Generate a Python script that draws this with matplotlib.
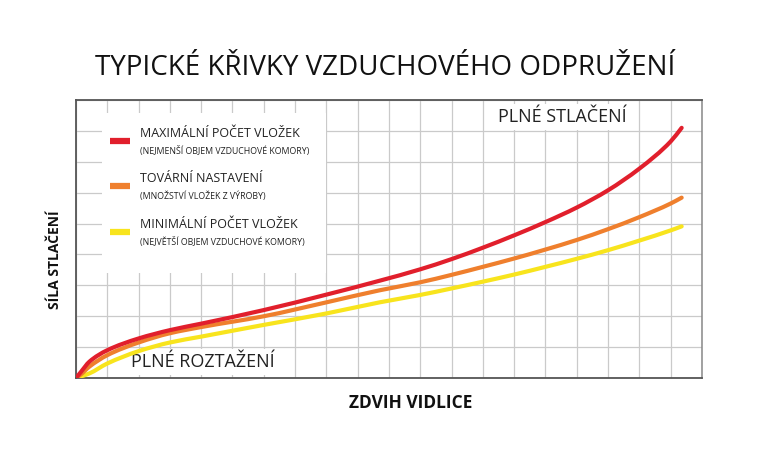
import numpy as np
import matplotlib.pyplot as plt
from matplotlib.patches import Rectangle, PathPatch
from matplotlib.path import Path

# values (x: grid columns 0-20, y: grid rows 0-9)
x_pts = [0, 0.16, 0.43, 1, 2, 3, 4, 6, 8, 9.7, 11, 12, 13, 14, 15, 16, 17, 18, 19, 19.35]
max_inserts = [0, 0.2, 0.53, 0.9, 1.28, 1.55, 1.76, 2.2, 2.7, 3.15, 3.52, 3.85, 4.22, 4.62, 5.05, 5.52, 6.08, 6.78, 7.66, 8.1]
factory = [0, 0.12, 0.37, 0.74, 1.15, 1.45, 1.65, 2.0, 2.45, 2.84, 3.1, 3.34, 3.6, 3.87, 4.16, 4.47, 4.82, 5.21, 5.65, 5.84]
min_inserts = [0, 0.05, 0.15, 0.47, 0.87, 1.15, 1.34, 1.72, 2.09, 2.45, 2.69, 2.9, 3.12, 3.35, 3.6, 3.86, 4.14, 4.45, 4.78, 4.91]

series_names = ["MAXIMÁLNÍ POČET VLOŽEK", "TOVÁRNÍ NASTAVENÍ", "MINIMÁLNÍ POČET VLOŽEK"]
series_notes = ["(NEJMENŠÍ OBJEM VZDUCHOVÉ KOMORY)", "(MNOŽSTVÍ VLOŽEK Z VÝROBY)",
                "(NEJVĚTŠÍ OBJEM VZDUCHOVÉ KOMORY)"]
colors = ["#e11f2c", "#ef7f2d", "#f8e41d"]

font = ["Open Sans", "DejaVu Sans"]


def smooth_path(xs, ys):
    # cubic bezier through the read points (monotone hermite tangents)
    xs = np.asarray(xs, float)
    ys = np.asarray(ys, float)
    h = np.diff(xs)
    d = np.diff(ys) / h
    m = np.zeros_like(xs)
    m[0] = d[0]
    m[-1] = d[-1]
    for i in range(1, len(xs) - 1):
        if d[i - 1] * d[i] <= 0:
            m[i] = 0
        else:
            w1 = 2 * h[i] + h[i - 1]
            w2 = h[i] + 2 * h[i - 1]
            m[i] = (w1 + w2) / (w1 / d[i - 1] + w2 / d[i])
    verts = [(xs[0], ys[0])]
    codes = [Path.MOVETO]
    for i in range(len(xs) - 1):
        verts += [(xs[i] + h[i] / 3, ys[i] + m[i] * h[i] / 3),
                  (xs[i + 1] - h[i] / 3, ys[i + 1] - m[i + 1] * h[i] / 3),
                  (xs[i + 1], ys[i + 1])]
        codes += [Path.CURVE4] * 3
    return Path(verts, codes)


fig = plt.figure(figsize=(7.59, 4.61), dpi=100)
ax = fig.add_axes([0.1001, 0.18, 0.8248, 0.603])

ax.set_xlim(0, 20)
ax.set_ylim(0, 9)
ax.set_xticks(np.arange(0, 21, 1))
ax.set_yticks(np.arange(0, 10, 1))
ax.tick_params(length=0, labelbottom=False, labelleft=False)
ax.grid(True, color="#cacaca", linewidth=0.9, zorder=0)
ax.set_axisbelow(True)
for side in ["top", "left", "bottom"]:
    ax.spines[side].set_color("#555555")
    ax.spines[side].set_linewidth(1.3)
ax.spines["right"].set_color("#888888")
ax.spines["right"].set_linewidth(1.1)

# lines, yellow first so red is on top
for ys, c in zip([min_inserts, factory, max_inserts], colors[::-1]):
    ax.add_patch(PathPatch(smooth_path(x_pts, ys), facecolor="none", edgecolor=c,
                           linewidth=3.0, capstyle="round", zorder=3))

# white legend panel
ax.add_patch(Rectangle((0.83, 3.4), 7.16, 5.18, facecolor="white", edgecolor="none", zorder=1))
swatch_y = [7.68, 6.21, 4.73]
name_y = [7.93, 6.47, 4.98]
note_y = [7.35, 5.89, 4.4]
for i in range(3):
    ax.plot([1.09, 1.73], [swatch_y[i], swatch_y[i]], color=colors[i], linewidth=4.5,
            solid_capstyle="butt", zorder=2)
    ax.text(2.04, name_y[i], series_names[i], fontsize=9, family=font, color="#222222",
            va="center", ha="left", zorder=2)
    ax.text(2.04, note_y[i], series_notes[i], fontsize=6.3, family=font, color="#222222",
            va="center", ha="left", zorder=2)

ax.text(15.53, 8.45, "PLNÉ STLAČENÍ", fontsize=13, family=font, color="#222222",
        ha="center", va="center", zorder=2,
        bbox=dict(facecolor="white", edgecolor="none", pad=3))
ax.text(4.06, 0.52, "PLNÉ ROZTAŽENÍ", fontsize=13, family=font, color="#222222",
        ha="center", va="center", zorder=2,
        bbox=dict(facecolor="white", edgecolor="none", pad=3))

fig.text(0.507, 0.853, "TYPICKÉ KŘIVKY VZDUCHOVÉHO ODPRUŽENÍ", fontsize=20, family=font,
         color="#111111", ha="center", va="center")
fig.text(411 / 759, 1 - 403 / 461, "ZDVIH VIDLICE", fontsize=12.5, family=font,
         fontweight="bold", color="#111111", ha="center", va="center")
fig.text(55 / 759, 1 - 260 / 461, "SÍLA STLAČENÍ", fontsize=10, family=font,
         fontweight="bold", color="#111111", ha="center", va="center", rotation=90)

fig.savefig("out.png", dpi=100)
